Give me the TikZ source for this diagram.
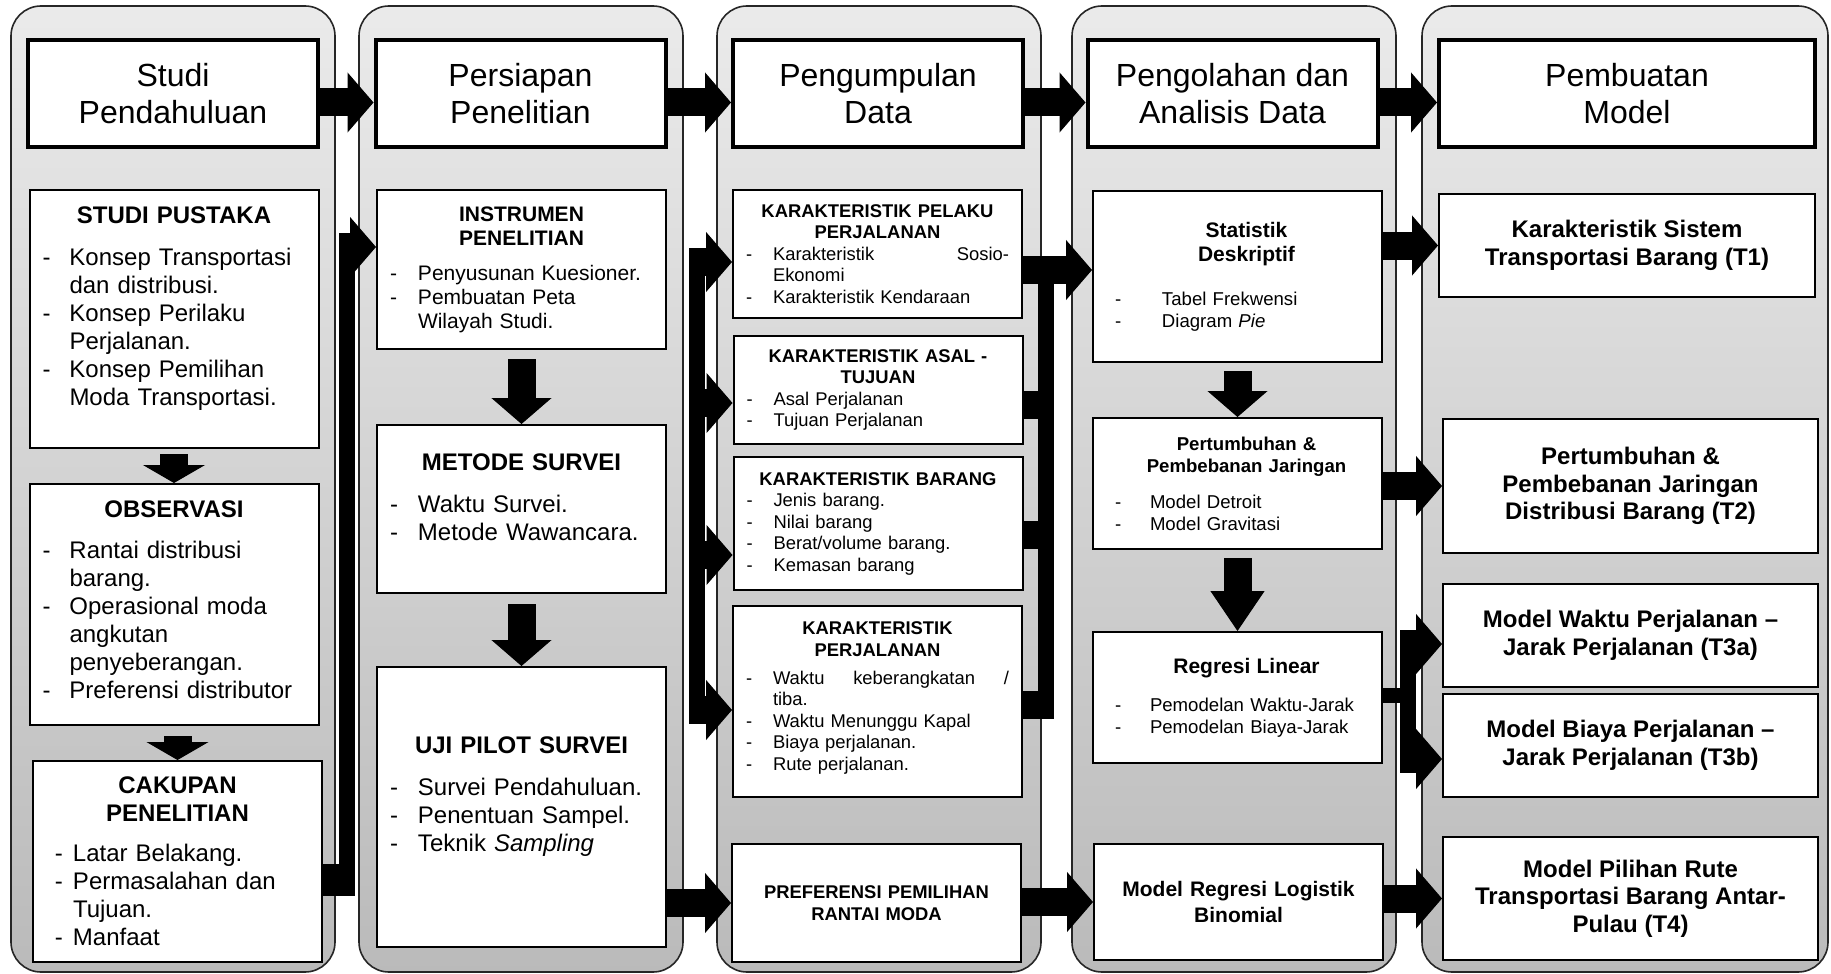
\documentclass[tikz,border=0pt]{standalone}
\usepackage{fontspec}
\setmainfont{Liberation Sans}
\usetikzlibrary{arrows.meta}

\newlength\itemind
\newlength\dashpos
\setlength\itemind{13.5pt}
\setlength\dashpos{0pt}
% one "- item" line with hanging indent
\newcommand{\itm}[1]{\par\hangindent=\itemind\hangafter=1\noindent\makebox[\itemind][l]{\hspace*{\dashpos}-}#1\par}
\newcommand{\padbot}[1]{\par\vskip#1\hrule height0pt}
\newcommand{\ttl}[1]{{\centering\bfseries #1\par}}
\newcommand{\ttlr}[1]{{\centering\leftskip=9pt plus 1fil\bfseries #1\par}}

\begin{document}
\begin{tikzpicture}[x=0.5pt, y=-0.5pt,
  panel/.style={draw=black!85, line width=0.8pt, rounded corners=15pt, top color=black!8, bottom color=black!27},
  head/.style={draw, line width=2pt, fill=white, minimum width=145pt, minimum height=53.5pt, align=center, font=\fontsize{16}{18.5}\selectfont},
  box/.style={draw, line width=1pt, fill=white, inner xsep=6.5pt, inner ysep=0pt, text width=131.5pt, align=left},
  goal/.style={draw, line width=1pt, fill=white, minimum width=187.5pt, align=center, font=\bfseries\fontsize{12}{13.75}\selectfont},
  listind/.style 2 args={execute at begin node={\setlength\itemind{#1}\setlength\dashpos{#2}}},
  c1/.style={font=\fontsize{12}{14}\selectfont},
  c2/.style={font=\fontsize{10.5}{12}\selectfont},
  c3/.style={font=\fontsize{9.2}{10.75}\selectfont},
  c4/.style={font=\fontsize{9.3}{11}\selectfont},
  fat/.style={line width=14pt, -{Triangle[length=13pt,width=30pt,line width=0.5pt]}},
  fatshort/.style={line width=14pt, -{Triangle[length=9pt,width=31pt,line width=0.5pt]}},
  fatlong/.style={line width=14pt, -{Triangle[length=20pt,width=27pt,line width=0.5pt]}},
  bus/.style={line width=8pt, line cap=rect},
  stub/.style={line width=14pt, shorten >=-4pt}]

  \useasboundingbox (0,0) rectangle (1831,974);

  % background columns
  \draw[panel] (11,6) rectangle (335,972);
  \draw[panel] (359,6) rectangle (683,972);
  \draw[panel] (717,6) rectangle (1041,972);
  \draw[panel] (1072,6) rectangle (1396,972);
  \draw[panel] (1422,6) rectangle (1828,972);

  % column 1
  \node (h1) at (173,93.5) [head] {Studi\\Pendahuluan};
  \node (sp) at (174,319) [box, c1, minimum height=129pt] {\ttl{STUDI PUSTAKA}\vspace{7pt}
    \itm{Konsep Transportasi\newline dan distribusi.}
    \itm{Konsep Perilaku\newline Perjalanan.}
    \itm{Konsep Pemilihan\newline Moda Transportasi.}\padbot{10.5pt}};
  \node (ob) at (174,604.5) [box, c1, minimum height=120.5pt] {\ttl{OBSERVASI}\vspace{6.5pt}
    \itm{Rantai distribusi\newline barang.}
    \itm{Operasional moda\newline angkutan\newline penyeberangan.}
    \itm{Preferensi distributor}\padbot{5pt}};
  \node (cp) at (177.5,861.5) [box, c1, minimum height=100.5pt, listind={13.5pt}{4.5pt}] {\ttl{CAKUPAN\\PENELITIAN}\vspace{6pt}
    \itm{Latar Belakang.}
    \itm{Permasalahan dan\newline Tujuan.}
    \itm{Manfaat}};

  % column 2
  \node (h2) at (520.5,93.5) [head] {Persiapan\\Penelitian};
  \node (ins) at (521.5,269.5) [box, c2, minimum height=79.5pt, listind={14pt}{0pt}] {\ttl{INSTRUMEN\\PENELITIAN}\vspace{5.5pt}
    \itm{Penyusunan Kuesioner.}
    \itm{Pembuatan Peta\newline Wilayah Studi.}};
  \node (ms) at (521.5,509) [box, c1, minimum height=84pt, listind={14pt}{0pt}] {\ttl{METODE SURVEI}\vspace{7pt}
    \itm{Waktu Survei.}
    \itm{Metode Wawancara.}\padbot{11.5pt}};
  \node (up) at (521.5,807) [box, c1, minimum height=140pt, listind={14pt}{0pt}] {\ttl{UJI PILOT SURVEI}\vspace{7pt}
    \itm{Survei Pendahuluan.}
    \itm{Penentuan Sampel.}
    \itm{Teknik \textit{Sampling}}\padbot{10.5pt}};

  % column 3
  \node (h3) at (878,93.5) [head] {Pengumpulan\\Data};
  \node (kp) at (877.5,254) [box, c3, minimum height=64pt] {\ttl{KARAKTERISTIK PELAKU\\PERJALANAN}
    \itm{Karakteristik\hfill Sosio-\newline Ekonomi}
    \itm{Karakteristik Kendaraan}};
  \node (ka) at (878,390) [box, c3, minimum height=54pt] {\ttl{KARAKTERISTIK ASAL -\\TUJUAN}
    \itm{Asal Perjalanan}
    \itm{Tujuan Perjalanan}};
  \node (kb) at (878,523.5) [box, c3, minimum height=66.5pt] {\ttl{KARAKTERISTIK BARANG}
    \itm{Jenis barang.}
    \itm{Nilai barang}
    \itm{Berat/volume barang.}
    \itm{Kemasan barang}};
  \node (kj) at (877.5,701.5) [box, c3, minimum height=95.5pt] {\ttl{KARAKTERISTIK\\PERJALANAN}\vspace{3.25pt}
    \itm{Waktu\hfill keberangkatan\hfill /\newline tiba.}
    \itm{Waktu Menunggu Kapal}
    \itm{Biaya perjalanan.}
    \itm{Rute perjalanan.}\padbot{3.5pt}};
  \node (pr) at (876.5,903) [box, c3, minimum height=59pt] {\ttl{PREFERENSI PEMILIHAN\\RANTAI MODA}};

  % column 4
  \node (h4) at (1232.5,93.5) [head] {Pengolahan dan\\Analisis Data};
  \node (sd) at (1237.5,276.5) [box, c4, minimum height=85.5pt, listind={28pt}{4.5pt}] {{\fontsize{10.5}{12}\selectfont\ttlr{Statistik\\Deskriptif}}\vspace{11pt}
    \itm{Tabel Frekwensi}
    \itm{Diagram \textit{Pie}}};
  \node (pj) at (1237.5,483.5) [box, c4, minimum height=65.5pt, listind={22pt}{4.5pt}] {\ttlr{Pertumbuhan \&\\Pembebanan Jaringan}\vspace{7pt}
    \itm{Model Detroit}
    \itm{Model Gravitasi}};
  \node (rl) at (1237.5,697.5) [box, c4, minimum height=65.5pt, listind={22pt}{4.5pt}] {{\fontsize{10.5}{12}\selectfont\ttlr{Regresi Linear}}\vspace{8pt}
    \itm{Pemodelan Waktu-Jarak}
    \itm{Pemodelan Biaya-Jarak}};
  \node (lg) at (1238.5,902) [box, minimum height=58pt, font=\fontsize{10.5}{13.3}\selectfont] {\ttl{Model Regresi Logistik\\Binomial}};

  % column 5
  \node (h5) at (1627,93.5) [head, minimum width=188pt] {Pembuatan\\Model};
  \node (t1) at (1627,245.5) [goal, minimum width=188pt, minimum height=51.5pt] {Karakteristik Sistem\\Transportasi Barang (T1)};
  \node (t2) at (1630.5,486) [goal, minimum height=67pt] {Pertumbuhan \&\\Pembebanan Jaringan\\Distribusi Barang (T2)};
  \node (t3a) at (1630.5,635.5) [goal, minimum height=51.5pt] {Model Waktu Perjalanan –\\Jarak Perjalanan (T3a)};
  \node (t3b) at (1630.5,745.5) [goal, minimum height=51.5pt] {Model Biaya Perjalanan –\\Jarak Perjalanan (T3b)};
  \node (t4) at (1630.5,898.5) [goal, minimum height=61.5pt] {Model Pilihan Rute\\Transportasi Barang Antar-\\Pulau (T4)};

  % header flow
  \draw[fat] ([yshift=-4.5pt]h1.east) -- ([yshift=-4.5pt]h2.west);
  \draw[fat] ([yshift=-4.5pt]h2.east) -- ([yshift=-4.5pt]h3.west);
  \draw[fat] ([yshift=-4.5pt]h3.east) -- ([yshift=-4.5pt]h4.west);
  \draw[fat] ([yshift=-4.5pt]h4.east) -- ([yshift=-4.5pt]h5.west);

  % downward arrows
  \draw[fatshort, shorten <=2.5pt] (sp.south) -- (ob.north);
  \draw[fatshort, shorten <=5pt] (cp.north |- ob.south) -- (cp.north);
  \draw[fat, shorten <=4.5pt] (ins.south) -- (ms.north);
  \draw[fat, shorten <=5pt] (ms.south) -- (up.north);
  \draw[fat, shorten <=4pt] (sd.south) -- (pj.north);
  \draw[fatlong, shorten <=4pt] (pj.south) -- (rl.north);

  % column 1 to column 2
  \coordinate (cb1) at (347,880);
  \coordinate (cb2) at (347,247);
  \draw[stub, line width=16pt] (cp.east |- cb1) -- (cb1);
  \draw[bus] (cb1) -- (cb2);
  \draw[fat, shorten <=-4pt] (cb2) -- (ins.west |- cb2);

  % column 3 left bracket
  \coordinate (lb1) at (697,262);
  \coordinate (lb2) at (697,403);
  \coordinate (lb3) at (697,555);
  \coordinate (lb4) at (697,710);
  \draw[bus] (lb1) -- (lb4);
  \draw[fat, shorten <=-4pt] (lb1) -- (kp.west |- lb1);
  \draw[fat, shorten <=-4pt] (lb2) -- (ka.west |- lb2);
  \draw[fat, shorten <=-4pt] (lb3) -- (kb.west |- lb3);
  \draw[fat, shorten <=-4pt] (lb4) -- (kj.west |- lb4);

  % column 3 right bracket
  \coordinate (rb1) at (1046,270);
  \coordinate (rb2) at (1046,405);
  \coordinate (rb3) at (1046,535);
  \coordinate (rb4) at (1046,705);
  \draw[bus] (rb1) -- (rb4);
  \draw[stub] (ka.east |- rb2) -- (rb2);
  \draw[stub] (kb.east |- rb3) -- (rb3);
  \draw[stub] (kj.east |- rb4) -- (rb4);
  \draw[fat] (kp.east |- rb1) -- (sd.west |- rb1);

  % column 4 to column 5
  \draw[fat] (sd.east |- t1.west) -- (t1.west);
  \draw[fat] (pj.east |- t2.west) -- (t2.west);
  \coordinate (rr0) at (1408,695);
  \coordinate (rr1) at (1408,644);
  \coordinate (rr2) at (1408,759);
  \draw[stub, line width=7.5pt] (rl.east |- rr0) -- (rr0);
  \draw[bus] (rr1) -- (rr2);
  \draw[fat, shorten <=-4pt] (rr1) -- (t3a.west |- rr1);
  \draw[fat, shorten <=-4pt] (rr2) -- (t3b.west |- rr2);
  \draw[fat] (lg.east |- t4.west) -- (t4.west);

  % bottom row
  \draw[fat] (up.east |- pr.west) -- (pr.west);
  \draw[fat] (pr.east |- lg.west) -- (lg.west);
\end{tikzpicture}
\end{document}
